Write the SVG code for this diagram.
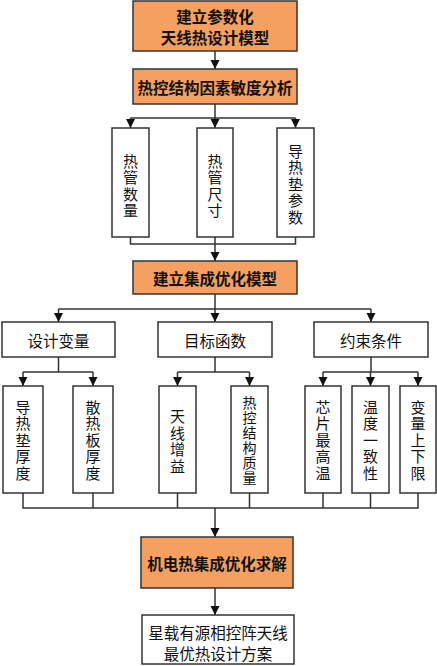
<svg xmlns="http://www.w3.org/2000/svg" width="437" height="666" viewBox="0 0 437 666">
<style>
.bx{fill:#ffffff;stroke:#333333;stroke-width:1.5}
.or{fill:#F5A060;stroke:#333333;stroke-width:1.5}
.t{font-family:"Noto Sans CJK SC","Noto Sans",sans-serif;font-size:15.5px;fill:#111111;text-anchor:middle;dominant-baseline:central}
.v{font-family:"Noto Sans CJK SC","Noto Sans",sans-serif;font-size:15px;fill:#111111;text-anchor:middle;writing-mode:vertical-rl}
.v6{font-size:14px}
.tb{font-weight:bold}
.ln{fill:none;stroke:#333333;stroke-width:1.5}
</style>
<defs>
<marker id="ah" markerWidth="10" markerHeight="10" refX="9" refY="5" orient="auto" markerUnits="userSpaceOnUse">
<path d="M0,0.5 L9,5 L0,9.5 Z" fill="#111111"/>
</marker>
</defs>
<rect width="437" height="666" fill="#ffffff"/>
<g id="connectors">
<path class="ln" d="M215,51 V69" marker-end="url(#ah)"/>
<path class="ln" d="M215,104 V118 M130.5,118 H295.5"/>
<path class="ln" d="M130.5,118 V128" marker-end="url(#ah)"/>
<path class="ln" d="M215,118 V128" marker-end="url(#ah)"/>
<path class="ln" d="M295.5,118 V128" marker-end="url(#ah)"/>
<path class="ln" d="M130.5,237 V244 H295.5 V237"/>
<path class="ln" d="M215,237 V261" marker-end="url(#ah)"/>
<path class="ln" d="M215,294 V309 M58.5,309 H371"/>
<path class="ln" d="M58.5,309 V322" marker-end="url(#ah)"/>
<path class="ln" d="M215,309 V322" marker-end="url(#ah)"/>
<path class="ln" d="M371,309 V322" marker-end="url(#ah)"/>
<path class="ln" d="M58.5,357 V372 M23,372 H93"/>
<path class="ln" d="M23,372 V386" marker-end="url(#ah)"/>
<path class="ln" d="M93,372 V386" marker-end="url(#ah)"/>
<path class="ln" d="M215,357 V372 M177.5,372 H249.5"/>
<path class="ln" d="M177.5,372 V386" marker-end="url(#ah)"/>
<path class="ln" d="M249.5,372 V386" marker-end="url(#ah)"/>
<path class="ln" d="M371,357 V372 M323,372 H418"/>
<path class="ln" d="M323,372 V386" marker-end="url(#ah)"/>
<path class="ln" d="M370.5,372 V386" marker-end="url(#ah)"/>
<path class="ln" d="M418,372 V386" marker-end="url(#ah)"/>
<path class="ln" d="M23,493 V508 H418 V493 M93,493 V508 M177.5,493 V508 M249.5,493 V508 M323,493 V508 M370.5,493 V508"/>
<path class="ln" d="M215,508 V537" marker-end="url(#ah)"/>
<path class="ln" d="M215,588 V615" marker-end="url(#ah)"/>
</g>
<g id="n1"><rect class="or" x="133" y="1" width="164" height="50"/>
<text class="t tb" x="215" y="16">建立参数化</text><text class="t tb" x="215" y="37">天线热设计模型</text></g>
<g id="n2"><rect class="or" x="133" y="69" width="164" height="35"/>
<text class="t tb" x="215" y="86.5">热控结构因素敏度分析</text></g>
<g id="n3"><rect class="bx" x="112" y="128" width="37" height="109"/>
<text class="v"><tspan x="130.5" y="161">热</tspan><tspan x="130.5" y="177.5">管</tspan><tspan x="130.5" y="194">数</tspan><tspan x="130.5" y="210.5">量</tspan></text></g>
<g id="n4"><rect class="bx" x="197" y="128" width="36" height="109"/>
<text class="v"><tspan x="215" y="161">热</tspan><tspan x="215" y="177.5">管</tspan><tspan x="215" y="194">尺</tspan><tspan x="215" y="210.5">寸</tspan></text></g>
<g id="n5"><rect class="bx" x="277" y="128" width="37" height="109"/>
<text class="v"><tspan x="295.5" y="151">导</tspan><tspan x="295.5" y="167.5">热</tspan><tspan x="295.5" y="184">垫</tspan><tspan x="295.5" y="200.5">参</tspan><tspan x="295.5" y="217">数</tspan></text></g>
<g id="n6"><rect class="or" x="133" y="261" width="164" height="33"/>
<text class="t tb" x="215" y="277.5">建立集成优化模型</text></g>
<g id="n7"><rect class="bx" x="2" y="322" width="113" height="35"/>
<text class="t" x="58.5" y="339.5">设计变量</text></g>
<g id="n8"><rect class="bx" x="158" y="322" width="114" height="35"/>
<text class="t" x="215" y="339.5">目标函数</text></g>
<g id="n9"><rect class="bx" x="314" y="322" width="114" height="35"/>
<text class="t" x="371" y="339.5">约束条件</text></g>
<g id="n10"><rect class="bx" x="3" y="386" width="40" height="107"/>
<text class="v"><tspan x="23" y="407">导</tspan><tspan x="23" y="423.5">热</tspan><tspan x="23" y="440">垫</tspan><tspan x="23" y="456.5">厚</tspan><tspan x="23" y="473">度</tspan></text></g>
<g id="n11"><rect class="bx" x="73" y="386" width="40" height="107"/>
<text class="v"><tspan x="93" y="407">散</tspan><tspan x="93" y="423.5">热</tspan><tspan x="93" y="440">板</tspan><tspan x="93" y="456.5">厚</tspan><tspan x="93" y="473">度</tspan></text></g>
<g id="n12"><rect class="bx" x="159" y="386" width="37" height="107"/>
<text class="v"><tspan x="177.5" y="416.5">天</tspan><tspan x="177.5" y="433">线</tspan><tspan x="177.5" y="449.5">增</tspan><tspan x="177.5" y="466">益</tspan></text></g>
<g id="n13"><rect class="bx" x="231" y="386" width="37" height="107"/>
<text class="v v6"><tspan x="249.5" y="403">热</tspan><tspan x="249.5" y="418">控</tspan><tspan x="249.5" y="433">结</tspan><tspan x="249.5" y="448">构</tspan><tspan x="249.5" y="463">质</tspan><tspan x="249.5" y="478">量</tspan></text></g>
<g id="n14"><rect class="bx" x="305" y="386" width="36" height="107"/>
<text class="v"><tspan x="323" y="407">芯</tspan><tspan x="323" y="423.5">片</tspan><tspan x="323" y="440">最</tspan><tspan x="323" y="456.5">高</tspan><tspan x="323" y="473">温</tspan></text></g>
<g id="n15"><rect class="bx" x="352" y="386" width="37" height="107"/>
<text class="v"><tspan x="370.5" y="407">温</tspan><tspan x="370.5" y="423.5">度</tspan><tspan x="370.5" y="440">一</tspan><tspan x="370.5" y="456.5">致</tspan><tspan x="370.5" y="473">性</tspan></text></g>
<g id="n16"><rect class="bx" x="400" y="386" width="36" height="107"/>
<text class="v"><tspan x="418" y="407">变</tspan><tspan x="418" y="423.5">量</tspan><tspan x="418" y="440">上</tspan><tspan x="418" y="456.5">下</tspan><tspan x="418" y="473">限</tspan></text></g>
<g id="n17"><rect class="or" x="141" y="537" width="152" height="51"/>
<text class="t tb" x="217" y="563">机电热集成优化求解</text></g>
<g id="n18"><rect class="bx" x="142" y="615" width="152" height="49"/>
<text class="t" x="218" y="632">星载有源相控阵天线</text><text class="t" x="218" y="653">最优热设计方案</text></g>
</svg>
